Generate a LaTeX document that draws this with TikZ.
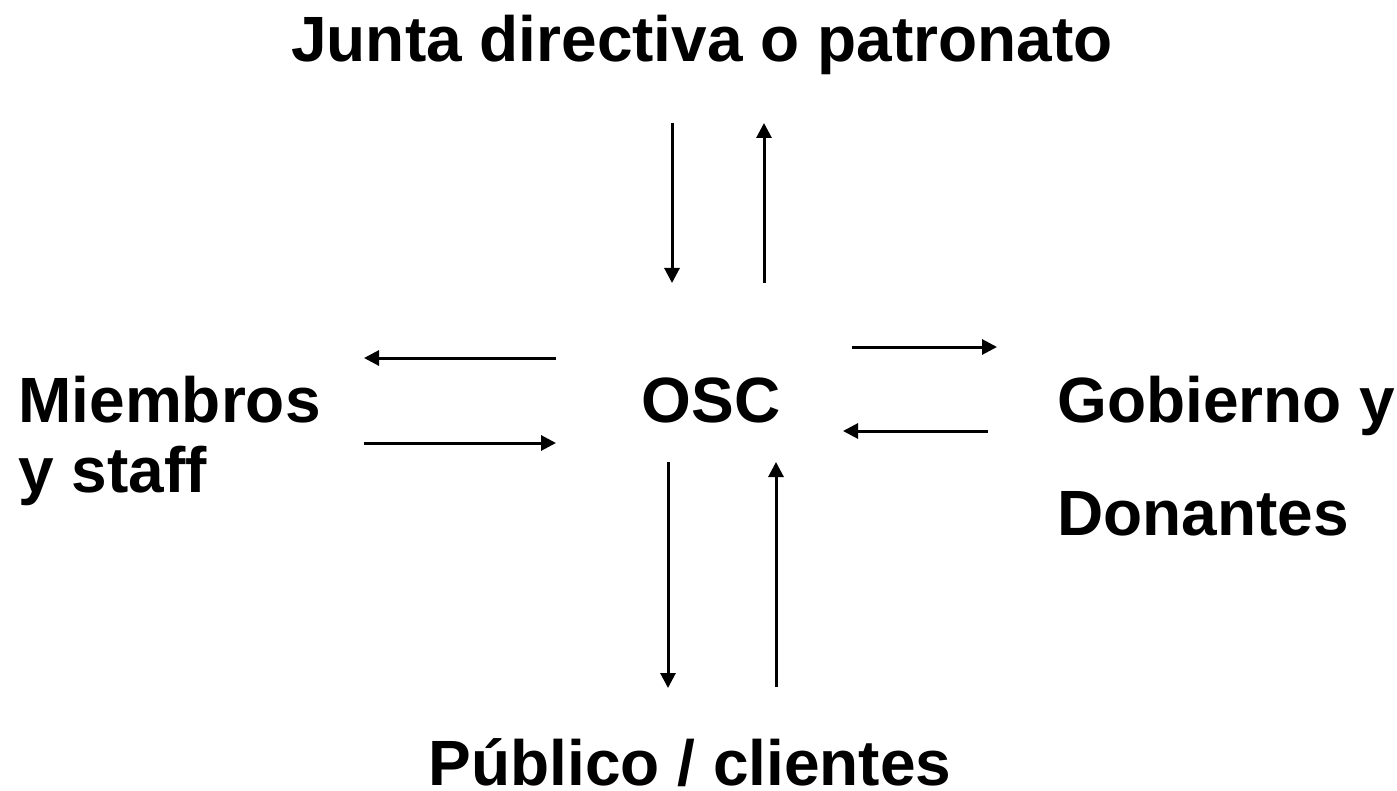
\documentclass[tikz,border=0pt]{standalone}
\usepackage{fontspec}
\setmainfont{Liberation Sans}
\usetikzlibrary{arrows.meta}
\begin{document}
\begin{tikzpicture}[x=0.5pt,y=-0.5pt,
  lbl/.style={font=\fontsize{32}{32}\selectfont\bfseries, inner sep=0pt},
  arr/.style={line width=1.5pt, -{Triangle[length=7.5pt,width=7.5pt]}}]
\useasboundingbox (0,0) rectangle (1397,791);
\node[lbl, anchor=base] (junta) at (702,62) {Junta directiva o patronato};
\node[lbl, anchor=base] (osc) at (711,422) {OSC};
\node[lbl, anchor=base west] (miem1) at (18,422) {Miembros};
\node[lbl, anchor=base west] (miem2) at (18,492) {y staff};
\node[lbl, anchor=base west] (gob1) at (1057,422) {Gobierno y};
\node[lbl, anchor=base west] (gob2) at (1057,535) {Donantes};
\node[lbl, anchor=base] (pub) at (690,785) {Público / clientes};
% arrow end points
\coordinate (a1s) at (672,123); \coordinate (a1e) at (672,283);
\coordinate (a2s) at (764,283); \coordinate (a2e) at (764,123);
\coordinate (a3s) at (556,358); \coordinate (a3e) at (364,358);
\coordinate (a4s) at (364,443); \coordinate (a4e) at (556,443);
\coordinate (a5s) at (852,347); \coordinate (a5e) at (997,347);
\coordinate (a6s) at (988,431); \coordinate (a6e) at (843,431);
\coordinate (a7s) at (668,462); \coordinate (a7e) at (668,688);
\coordinate (a8s) at (776,687); \coordinate (a8e) at (776,462);
\draw[arr] (a1s) -- (a1e);
\draw[arr] (a2s) -- (a2e);
\draw[arr] (a3s) -- (a3e);
\draw[arr] (a4s) -- (a4e);
\draw[arr] (a5s) -- (a5e);
\draw[arr] (a6s) -- (a6e);
\draw[arr] (a7s) -- (a7e);
\draw[arr] (a8s) -- (a8e);
\end{tikzpicture}
\end{document}
